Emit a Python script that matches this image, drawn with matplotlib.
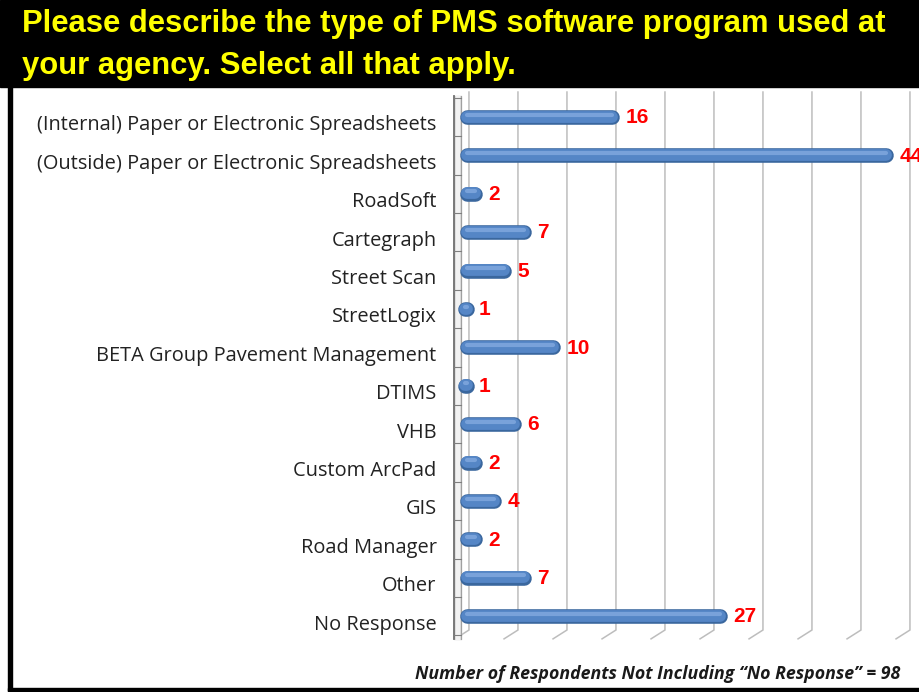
import numpy as np
import matplotlib
matplotlib.use("Agg")
import matplotlib.pyplot as plt
from matplotlib.patches import Rectangle

# data
categories = ["(Internal) Paper or Electronic Spreadsheets",
              "(Outside) Paper or Electronic Spreadsheets",
              "RoadSoft", "Cartegraph", "Street Scan", "StreetLogix",
              "BETA Group Pavement Management", "DTIMS", "VHB",
              "Custom ArcPad", "GIS", "Road Manager", "Other", "No Response"]
counts = [16, 44, 2, 7, 5, 1, 10, 1, 6, 2, 4, 2, 7, 27]
grid_vals = np.arange(0, 50, 5)

title = "Please describe the type of PMS software program used at\nyour agency. Select all that apply."
note = "Number of Respondents Not Including \u201cNo Response\u201d = 98"

W, H = 919, 692
fig = plt.figure(figsize=(W / 100, H / 100), dpi=100)
fig.patch.set_facecolor("white")

def fx(px):
    return px / W

def fy(py):
    return 1 - py / H

# header band and frame
fig.add_artist(Rectangle((0, fy(87)), 1, 87 / H, transform=fig.transFigure,
                         color="black", zorder=0))
fig.add_artist(Rectangle((fx(8), fy(691)), 4 / W, (691 - 87) / H,
                         transform=fig.transFigure, color="black", zorder=5))
fig.add_artist(Rectangle((fx(8), fy(691)), 1 - fx(8), 3 / H,
                         transform=fig.transFigure, color="black", zorder=5))
fig.text(fx(22), fy(45), title, color="#FFFF00", fontsize=22.3, fontweight="bold",
         family="Liberation Sans", va="center", ha="left", linespacing=1.55)

# axes: zero at x=462 px, 9.8 px per unit; rows every 38.4 px starting at 117
ax_l, ax_r, ax_t, ax_b = 440, 919, 90, 645
ax = fig.add_axes([fx(ax_l), fy(ax_b), (ax_r - ax_l) / W, (ax_b - ax_t) / H])
ax.set_xlim((ax_l - 462) / 9.8, (ax_r - 462) / 9.8)
ax.set_ylim((ax_b - 117) / 38.4, (ax_t - 117) / 38.4)
ax.axis("off")

n = len(categories)
y = np.arange(n)
g_top, g_back, g_front = -0.65, 13.36, 13.59
d = 0.71

for g in grid_vals:
    ax.plot([g + d, g + d, g - d], [g_top, g_back, g_front],
            color="#BDBDBD", lw=1.1, zorder=1, solid_joinstyle="miter")

# left wall
ax.fill_betweenx([-0.55, 13.6], -0.8, -0.1, color="#DADADA", zorder=2)
ax.fill_betweenx([-0.55, 13.6], -0.65, -0.35, color="#F2F2F2", zorder=2)
ax.plot([-0.8, -0.8], [-0.55, 13.6], color="#6F6F6F", lw=1.3, zorder=3)
ax.plot([-0.1, -0.1], [-0.55, 13.6], color="#A0A0A0", lw=0.8, zorder=3)
for b in np.arange(-0.5, n, 1.0):
    ax.plot([-0.8, -0.1], [b, b], color="#7F7F7F", lw=0.8, zorder=3)

cap = 0.71
for yi, v in zip(y, counts):
    ax.plot([cap - 0.15, v - cap], [yi, yi], color="#3A679E", lw=10.5,
            solid_capstyle="round", zorder=4)
    ax.plot([cap - 0.15, v - cap], [yi - 0.01, yi - 0.01], color="#5586C6", lw=8.5,
            solid_capstyle="round", zorder=5)
    ax.plot([cap - 0.15, v - cap], [yi - 0.06, yi - 0.06], color="#79A2DA", lw=3,
            solid_capstyle="round", zorder=6)
    ax.text(v + 0.7, yi + 0.02, str(v), color="#FF0000", fontsize=15,
            fontweight="bold", family="Liberation Sans", va="center",
            ha="left", zorder=7, clip_on=False)
    ax.text(-2.6, yi + 0.22, categories[yi], color="#222222", fontsize=14.4,
            family="Open Sans", va="center", ha="right", clip_on=False)

fig.text(fx(900), fy(674), note, fontsize=12.8, fontweight="bold", style="italic",
         family="Open Sans", color="#1A1A1A", ha="right", va="center")

fig.savefig("out.png", dpi=100)
